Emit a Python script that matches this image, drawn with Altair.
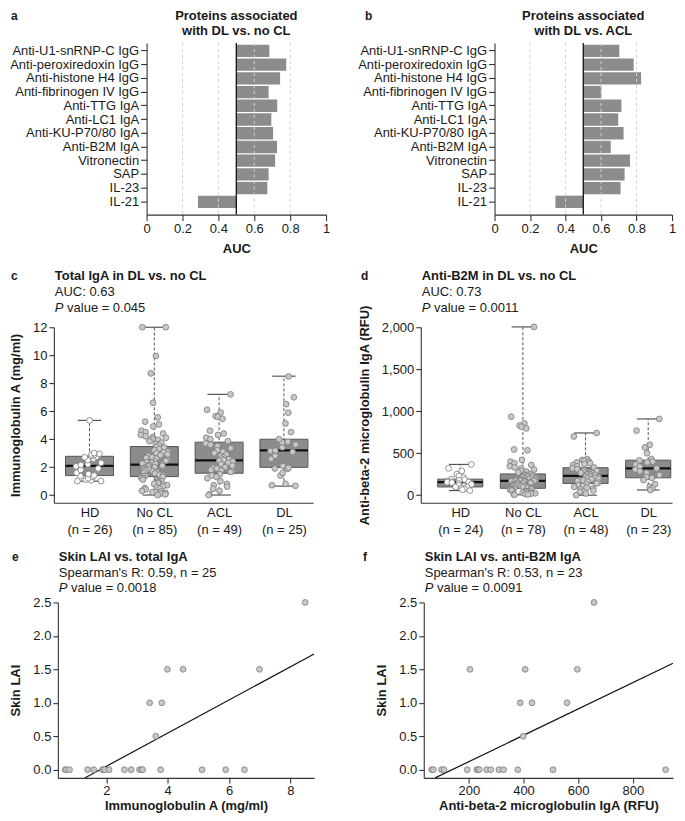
import altair as alt
import pandas as pd

FONT = "Liberation Sans"
TXT = "#1a1a1a"
AX = "#333333"

# ---------------- data ----------------
proteins = ["Anti-U1-snRNP-C IgG", "Anti-peroxiredoxin IgG", "Anti-histone H4 IgG",
            "Anti-fibrinogen IV IgG", "Anti-TTG IgA", "Anti-LC1 IgA", "Anti-KU-P70/80 IgA",
            "Anti-B2M IgA", "Vitronectin", "SAP", "IL-23", "IL-21"]
auc_dl_vs_nocl = [0.684, 0.778, 0.744, 0.680, 0.728, 0.695, 0.705, 0.727, 0.716, 0.680, 0.673, 0.286]
auc_dl_vs_acl = [0.703, 0.784, 0.826, 0.602, 0.715, 0.697, 0.727, 0.655, 0.763, 0.733, 0.710, 0.343]
auc_ticks = [0, 0.2, 0.4, 0.6, 0.8, 1]
auc_grid = [0.2, 0.4, 0.6, 0.8]
auc_ref = [0.5]

groups = ["HD", "No CL", "ACL", "DL"]
n_iga = [26, 85, 49, 25]
n_b2m = [24, 78, 48, 23]

iga_hd = [1.0, 1.0, 1.05, 1.1, 1.2, 1.3, 1.35, 1.4, 1.5, 1.6, 1.8, 1.9, 2.05, 2.15, 2.2,
          2.3, 2.5, 2.6, 2.7, 2.75, 2.8, 2.85, 2.9, 2.95, 3.0, 5.34]
iga_nocl = [12.0, 12.0, 9.95, 8.7, 6.6, 5.55, 5.25, 5.05, 4.9,
            4.6, 4.5, 4.4, 4.3, 4.2, 4.15, 4.1, 4.0, 3.95, 3.85, 3.75, 3.65, 3.55,
            3.45, 3.4, 3.3, 3.2, 3.1, 3.05, 3.0, 2.9, 2.85, 2.8, 2.7, 2.65, 2.6, 2.5,
            2.45, 2.4, 2.35, 2.3, 2.25, 2.22, 2.2,
            2.15, 2.1, 2.05, 2.0, 1.95, 1.9, 1.85, 1.8, 1.75, 1.7, 1.65, 1.6, 1.55,
            1.5, 1.45, 1.4, 1.38, 1.35, 1.3, 1.25, 1.2,
            1.1, 1.05, 1.0, 0.95, 0.9, 0.85, 0.8, 0.75, 0.7, 0.6, 0.55, 0.5, 0.45,
            0.4, 0.3, 0.25, 0.2, 0.15, 0.1, 0.05, 0.0]
iga_acl = [7.2, 6.1, 5.9, 5.65, 5.6, 5.45, 4.6, 4.4, 4.3, 4.1, 4.0, 3.85,
           3.7, 3.6, 3.5, 3.35, 3.2, 3.1, 3.0, 2.9, 2.8, 2.7, 2.6, 2.55, 2.5,
           2.45, 2.4, 2.3, 2.2, 2.1, 2.0, 1.95, 1.9, 1.8, 1.75, 1.7, 1.65,
           1.5, 1.4, 1.3, 1.2, 1.0, 0.8, 0.7, 0.6, 0.45, 0.3, 0.05, 0.0]
iga_dl = [0.66, 0.7, 0.8, 1.39, 1.59, 1.87, 1.9, 1.95, 2.09, 2.59, 2.81, 3.08, 3.15,
          3.18, 3.41, 3.61, 3.77, 3.81, 3.99, 4.5, 5.12, 5.89, 6.5, 6.99, 8.48]
iga_q1 = [1.39, 1.32, 1.56, 1.98]
iga_med = [2.08, 2.17, 2.48, 3.19]
iga_q3 = [2.77, 3.47, 3.78, 3.99]
iga_lo = [0.99, 0.0, 0.0, 0.64]
iga_hi = [5.34, 12.0, 7.2, 8.5]
iga_ticks = [0, 2, 4, 6, 8, 10, 12]

b2m_hd = [366, 320, 290, 250, 230, 210, 191, 185, 175, 168, 160, 157, 155, 150, 140,
          130, 120, 110, 98, 95, 85, 75, 65, 55]
b2m_nocl = [2004, 935, 855, 830, 815, 795, 545, 535, 420, 400, 380, 360, 345, 330, 320,
            305, 290, 280, 270,
            250, 245, 240, 235, 230, 220, 215, 210, 205, 200, 195, 190, 185, 182, 180,
            178, 175, 173, 172, 171, 171,
            165, 160, 155, 150, 145, 140, 135, 130, 125, 120, 115, 112, 108, 105, 100,
            96, 92, 88, 84,
            80, 75, 70, 65, 60, 55, 50, 45, 40, 38, 35, 30, 25, 22, 18, 14, 10, 8, 5]
b2m_acl = [741, 700, 430, 420, 410, 400, 390, 380, 370, 360, 345, 330,
           320, 310, 300, 290, 280, 270, 265, 260, 255, 250, 245, 240,
           225, 220, 215, 210, 200, 195, 190, 180, 175, 170, 160, 150,
           140, 130, 120, 110, 100, 90, 80, 70, 55, 40, 20, 0]
b2m_dl = [908, 768, 600, 570, 500, 430, 415, 400, 390, 365, 340, 320, 305, 285, 265,
          240, 215, 205, 180, 130, 100, 80, 62]
b2m_q1 = [98, 82, 140, 207]
b2m_med = [156, 171, 230, 320]
b2m_q3 = [191, 253, 327, 417]
b2m_lo = [55, 5, 0, 62]
b2m_hi = [366, 2004, 741, 908]
b2m_ticks = [0, 500, 1000, 1500, 2000]

lai_ticks = [0, 0.5, 1.0, 1.5, 2.0, 2.5]
e_iga = [0.66, 0.7, 0.8, 1.39, 1.59, 1.87, 1.9, 1.95, 2.09, 2.59, 2.81, 3.08, 3.15, 3.18,
         3.77, 5.12, 5.89, 6.5, 3.99, 4.5, 6.99, 3.41, 3.81, 3.61, 8.48]
e_lai = [0, 0, 0, 0, 0, 0, 0, 0, 0, 0, 0, 0, 0, 0, 0, 0, 0, 0, 1.5, 1.5, 1.5, 1.0, 1.0, 0.5, 2.5]
e_fit_x = [1.30, 8.77]
e_fit_y = [-0.123, 1.729]
e_ticks = [2, 4, 6, 8]

f_b2m = [64, 70, 100, 109, 194, 229, 235, 238, 265, 280, 310, 327, 379, 508, 920,
         204, 406, 597, 388, 431, 559, 399, 658]
f_lai = [0, 0, 0, 0, 0, 0, 0, 0, 0, 0, 0, 0, 0, 0, 0, 1.5, 1.5, 1.5, 1.0, 1.0, 1.0, 0.5, 2.5]
f_fit_x = [76.6, 947]
f_fit_y = [-0.123, 1.591]
f_ticks = [200, 400, 600, 800]

ONE = pd.DataFrame({"k": [0]})


# ---------------- helpers ----------------
def frame(ml, mt, w, h, mr, mb):
    return alt.Chart(ONE).mark_rect(opacity=0).encode(
        x=alt.value(-ml), x2=alt.value(w + mr), y=alt.value(-mt), y2=alt.value(h + mb))


def spacer():
    return alt.Chart(ONE).mark_rect(opacity=0).encode(
        x=alt.value(0), x2=alt.value(1), y=alt.value(0), y2=alt.value(1)
    ).properties(width=1, height=1)


def txt(s, x, y, size=13, bold=False, italic=False, align="left"):
    return alt.Chart(ONE).mark_text(
        text=s, align=align, baseline="middle", font=FONT, fontSize=size,
        fontWeight="bold" if bold else "normal",
        fontStyle="italic" if italic else "normal", color=TXT,
    ).encode(x=alt.value(x), y=alt.value(y))


def pval(s, x, y):
    return [txt("P", x, y, italic=True), txt(s, x + 12.3, y)]


def bar_panel(aucs, t1, t2, letter, lx, ml, mt, w, h, mr, mb):
    df = pd.DataFrame({"protein": proteins, "auc": aucs})
    grid = pd.DataFrame({"auc": auc_grid})
    ref = pd.DataFrame({"auc": auc_ref})
    xs = alt.Scale(domain=[0, 1], nice=False, zero=False)
    xa = alt.Axis(values=auc_ticks, format="~g", title="AUC", tickSize=6, labelPadding=2,
                  titlePadding=7, labelFlush=False, labelOverlap=False, grid=False)
    X = alt.X("auc:Q", scale=xs, axis=xa, title="AUC")
    Y = alt.Y("protein:N", sort=proteins,
              scale=alt.Scale(paddingInner=0.1, paddingOuter=0.3, align=0.2),
              axis=alt.Axis(title=None, tickSize=6, labelPadding=2, labelLimit=300), title=None)
    bars = alt.Chart(df).mark_bar(color="#8c8c8c").encode(x=X, x2=alt.datum(0.5), y=Y)
    gl = alt.Chart(grid).mark_rule(color="#d2d2d2", strokeDash=[3, 3], strokeWidth=1).encode(x=X)
    rl = alt.Chart(ref).mark_rule(color="#111111", strokeWidth=1.3).encode(x=X)
    return alt.layer(
        frame(ml, mt, w, h, mr, mb), bars, gl, rl,
        txt(t1, w / 2, -27, bold=True, align="center"),
        txt(t2, w / 2, -12, bold=True, align="center"),
        txt(letter, lx, -27, size=12, bold=True),
    ).properties(width=w, height=h)


def box_panel(vals, q1, med, q3, lo, hi, ns, xdom, ydom, yticks, yfmt, ytitle,
              t1, t2, t3, letter, lx, ml, mt, w, h, mr, mb, half=0.37):
    box_df = pd.DataFrame({"idx": list(range(len(groups))), "q1": q1, "med": med,
                           "q3": q3, "lo": lo, "hi": hi})
    pts = pd.DataFrame([{"group": g, "idx": i, "value": v}
                        for i, g in enumerate(groups) for v in vals[i]])
    label_expr = "[" + ",".join("['%s','(n = %d)']" % (g, n) for g, n in zip(groups, ns)) + "][datum.value]"
    xa = alt.Axis(values=list(range(len(groups))), labelExpr=label_expr, ticks=False,
                  labelPadding=4, labelLineHeight=17, labelFlush=False, labelOverlap=False,
                  title=None, grid=False)
    xs = alt.Scale(domain=xdom, nice=False, zero=False)
    ya = alt.Axis(values=yticks, format=yfmt, title=ytitle, titlePadding=10, tickSize=5,
                  labelPadding=2, labelFlush=False, labelOverlap=False, grid=False)
    ys = alt.Scale(domain=ydom, nice=False, zero=False)

    def X(f):
        return alt.X(f + ":Q", scale=xs, axis=xa, title=None)

    def Y(f):
        return alt.Y(f + ":Q", scale=ys, axis=ya, title=ytitle)

    base = alt.Chart(box_df).transform_calculate(
        x0="datum.idx - %f" % half, x1="datum.idx + %f" % half,
        c0="datum.idx - 0.18", c1="datum.idx + 0.18")
    whisk = base.mark_rule(color="#555555", strokeDash=[3, 2], strokeWidth=1).encode(
        x=X("idx"), y=Y("lo"), y2="hi:Q")
    box = base.mark_rect(fill="#8c8c8c", stroke="#555555", strokeWidth=1).encode(
        x=X("x0"), x2="x1:Q", y=Y("q1"), y2="q3:Q")
    medl = base.mark_rule(color="#111111", strokeWidth=2.2).encode(
        x=X("x0"), x2="x1:Q", y=Y("med"))
    cap_lo = base.mark_rule(color="#555555", strokeWidth=1.2).encode(
        x=X("c0"), x2="c1:Q", y=Y("lo"))
    cap_hi = base.mark_rule(color="#555555", strokeWidth=1.2).encode(
        x=X("c0"), x2="c1:Q", y=Y("hi"))
    # deterministic display jitter (horizontal spread only)
    dots = alt.Chart(pts).transform_window(
        rn="row_number()", groupby=["group"]
    ).transform_calculate(
        xj="datum.idx + ((abs(sin(datum.rn * 12.9898) * 43758.5453) % 1) - 0.5) * 0.42"
    ).mark_circle(size=34, stroke="#7a7a7a", strokeWidth=0.8, opacity=1).encode(
        x=X("xj"), y=Y("value"),
        fill=alt.Fill("group:N", scale=alt.Scale(domain=groups,
                      range=["#ffffff", "#c8c8c8", "#c8c8c8", "#c8c8c8"]), legend=None))
    return alt.layer(
        frame(ml, mt, w, h, mr, mb), whisk, box, medl, cap_lo, cap_hi, dots,
        txt(t1, 1, -51, bold=True), txt(t2, 1, -35), *pval(t3, 1, -19),
        txt(letter, lx, -51, size=12, bold=True),
    ).properties(width=w, height=h)


def scatter_panel(xv, yv, fx, fy, xdom, xticks, xtitle, t1, t2, t3, letter, lx,
                  ml, mt, w, h, mr, mb):
    df = pd.DataFrame({"x": xv, "y": yv})
    fit = pd.DataFrame({"x": fx, "y": fy})
    xs = alt.Scale(domain=xdom, nice=False, zero=False)
    ys = alt.Scale(domain=[-0.123, 2.5], nice=False, zero=False)
    xa = alt.Axis(values=xticks, title=xtitle, tickSize=5, labelPadding=1.5, titlePadding=2,
                  labelFlush=False, labelOverlap=False, grid=False)
    ya = alt.Axis(values=lai_ticks, format=".1f", title="Skin LAI", tickSize=5, labelPadding=2,
                  titlePadding=10, labelFlush=False, labelOverlap=False, grid=False)
    X = alt.X("x:Q", scale=xs, axis=xa, title=xtitle)
    Y = alt.Y("y:Q", scale=ys, axis=ya, title="Skin LAI")
    line = alt.Chart(fit).mark_line(color="#111111", strokeWidth=1.2, clip=True).encode(x=X, y=Y)
    dots = alt.Chart(df).mark_circle(size=34, fill="#c8c8c8", stroke="#7a7a7a",
                                     strokeWidth=0.8, opacity=1).encode(x=X, y=Y)
    return alt.layer(
        frame(ml, mt, w, h, mr, mb), line, dots,
        txt(t1, 1, -46, bold=True), txt(t2, 1, -30), *pval(t3, 1, -14),
        txt(letter, lx, -46, size=12, bold=True),
    ).properties(width=w, height=h)


# ---------------- panels ----------------
pa = bar_panel(auc_dl_vs_nocl, "Proteins associated", "with DL vs. no CL", "a", -136,
               137, 34, 180, 172, 14, 48)
pb = bar_panel(auc_dl_vs_acl, "Proteins associated", "with DL vs. ACL", "b", -130,
               155, 34, 178, 172, 4, 48)

pc = box_panel([iga_hd, iga_nocl, iga_acl, iga_dl], iga_q1, iga_med, iga_q3, iga_lo, iga_hi,
               n_iga, [-0.55, 3.45], [-0.55, 12], iga_ticks, "d", "Immunoglobulin A (mg/ml)",
               "Total IgA in DL vs. no CL", "AUC: 0.63", "value = 0.045", "c", -43,
               44, 65, 260, 176, 27, 40)
pd_ = box_panel([b2m_hd, b2m_nocl, b2m_acl, b2m_dl], b2m_q1, b2m_med, b2m_q3, b2m_lo, b2m_hi,
                n_b2m, [-0.63, 3.38], [-90, 2000], b2m_ticks, ",d",
                "Anti-beta-2 microglobulin IgA (RFU)",
                "Anti-B2M in DL vs. no CL", "AUC: 0.73", "value = 0.0011", "d", -60,
                81, 65, 252, 176, 4, 40, half=0.36)

pe = scatter_panel(e_iga, e_lai, e_fit_x, e_fit_y, [0.42, 8.77], e_ticks,
                   "Immunoglobulin A (mg/ml)", "Skin LAI vs. total IgA",
                   "Spearman's R: 0.59, n = 25", "value = 0.0018", "e", -46,
                   47, 60, 257, 176, 27, 32)
pf = scatter_panel(f_b2m, f_lai, f_fit_x, f_fit_y, [35, 947], f_ticks,
                   "Anti-beta-2 microglobulin IgA (RFU)", "Skin LAI vs. anti-B2M IgA",
                   "Spearman's R: 0.53, n = 23", "value = 0.0091", "f", -61,
                   83, 60, 250, 176, 4, 32)

row1 = alt.hconcat(spacer(), pa, pb, spacing=0)
row2 = alt.hconcat(spacer(), pc, pd_, spacing=0)
row3 = alt.hconcat(spacer(), pe, pf, spacing=0)

chart = alt.vconcat(row1, row2, row3, spacing=0).properties(
    padding=0
).configure_view(stroke=None).configure_axis(
    labelFont=FONT, titleFont=FONT, labelFontSize=13, titleFontSize=13,
    titleFontWeight="bold", labelColor=TXT, titleColor=TXT,
    domainColor=AX, tickColor=AX, domainWidth=1.1, tickWidth=1.1, grid=False,
)

chart.save("out.html", embed_options={"renderer": "svg", "actions": False})
